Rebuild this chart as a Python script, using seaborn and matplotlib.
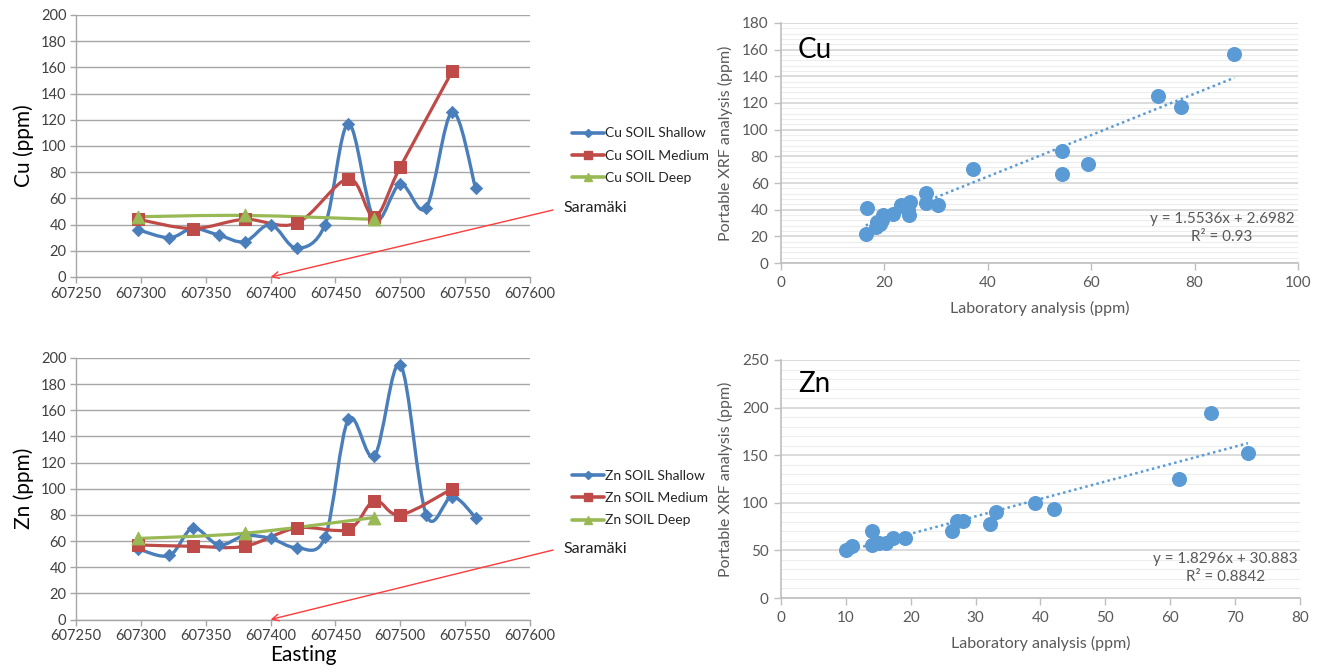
import numpy as np
import matplotlib
matplotlib.use("Agg")
import matplotlib.pyplot as plt
import seaborn as sns
from matplotlib.path import Path
from matplotlib.patches import PathPatch
from matplotlib.lines import Line2D
from matplotlib.ticker import MultipleLocator

# ---------------- data ----------------
shallow_x = [607298, 607322, 607340, 607360, 607380, 607400, 607420, 607442,
             607460, 607480, 607500, 607520, 607540, 607558]
medium_x = [607298, 607340, 607380, 607420, 607460, 607480, 607500, 607540]
deep_x = [607298, 607380, 607480]

cu_shallow = [36, 30, 37, 32, 27, 40, 22, 40, 117, 44, 71, 53, 126, 68]
cu_medium = [44, 37, 44, 41, 75, 46, 84, 157]
cu_deep = [46, 47, 44]

zn_shallow = [54, 49, 70, 57, 64, 62, 55, 63, 153, 125, 195, 80, 94, 78]
zn_medium = [57, 56, 56, 70, 69, 91, 80, 100]
zn_deep = [62, 66, 78]

cu_lab = [16.4, 16.6, 18.3, 18.5, 19.1, 19.6, 19.7, 21.6, 23.2, 24.0, 25.0, 24.6,
          24.8, 28.0, 28.0, 30.3, 37.2, 54.4, 54.4, 59.4, 72.9, 77.3, 87.7]
cu_xrf = [21.7, 41.5, 27.2, 30.7, 29.2, 32.0, 36.0, 36.8, 43.5, 42.0, 46.0, 40.0,
          36.0, 52.8, 44.8, 43.5, 70.5, 83.9, 66.8, 74.3, 125.5, 116.7, 156.4]
cu_fit = (1.5536, 2.6982)
cu_eq = "y = 1.5536x + 2.6982\nR² = 0.93"

zn_lab = [10.1, 11.0, 14.1, 14.1, 15.1, 16.2, 17.3, 19.2, 26.3, 27.2, 28.1, 32.3,
          33.1, 39.2, 42.1, 61.3, 66.3, 72.0]
zn_xrf = [50, 54.5, 70, 56, 58, 57.5, 63.5, 63.5, 70, 80.5, 80.5, 78, 90.5, 99.5,
          94, 125, 194.5, 152.5]
zn_fit = (1.8296, 30.883)
zn_eq = "y = 1.8296x + 30.883\nR² = 0.8842"

easting_ticks = [607250, 607300, 607350, 607400, 607450, 607500, 607550, 607600]

BLUE = "#4A7EBB"
RED = "#BE4B48"
GREEN = "#98B954"
SC_BLUE = "#5B9BD5"

sns.set_theme(style="white")
plt.rcParams['font.family'] = ['Lato', 'DejaVu Sans']

fig = plt.figure(figsize=(13.25, 6.72), dpi=100)


def smooth_line(ax, xs, ys, color, lw):
    pts = np.column_stack([np.asarray(xs, float), np.asarray(ys, float)])
    n = len(pts)
    verts = [pts[0]]
    codes = [Path.MOVETO]
    for i in range(n - 1):
        p0 = pts[i - 1] if i > 0 else pts[i]
        p1 = pts[i]
        p2 = pts[i + 1]
        p3 = pts[i + 2] if i + 2 < n else pts[i + 1]
        verts += [p1 + (p2 - p0) / 6.0, p2 - (p3 - p1) / 6.0, p2]
        codes += [Path.CURVE4] * 3
    ax.add_patch(PathPatch(Path(verts, codes), fill=False, edgecolor=color,
                           lw=lw, capstyle='round', joinstyle='round', zorder=2))


def profile(rect, el, sh, md, dp, legend_y, sara_y, arrow_y, xlabel):
    ax = fig.add_axes(rect)
    smooth_line(ax, shallow_x, sh, BLUE, 2.4)
    smooth_line(ax, medium_x, md, RED, 2.3)
    smooth_line(ax, deep_x, dp, GREEN, 2.3)
    sns.scatterplot(x=shallow_x, y=sh, marker='D', s=40, color=BLUE,
                    edgecolor=BLUE, ax=ax, zorder=3, legend=False)
    sns.scatterplot(x=medium_x, y=md, marker='s', s=85, color=RED,
                    edgecolor=RED, ax=ax, zorder=4, legend=False)
    sns.scatterplot(x=deep_x, y=dp, marker='^', s=85, color=GREEN,
                    edgecolor=GREEN, ax=ax, zorder=5, legend=False)
    ax.set_xlim(607250, 607600)
    ax.set_ylim(0, 200)
    ax.set_xticks(easting_ticks)
    ax.set_xticklabels([str(t) for t in easting_ticks])
    ax.set_yticks(range(0, 201, 20))
    ax.grid(axis='y', color='#A6A6A6', lw=1.0)
    ax.set_axisbelow(True)
    for s in ['top', 'right']:
        ax.spines[s].set_visible(False)
    for s in ['left', 'bottom']:
        ax.spines[s].set_color('#A6A6A6')
        ax.spines[s].set_linewidth(1.0)
    ax.tick_params(axis='both', colors='#A6A6A6', length=4, width=1.0,
                   labelcolor='#404040', labelsize=10.5, pad=3)
    ax.tick_params(axis='x', direction='out', bottom=True)
    ax.tick_params(axis='y', direction='out', left=True)
    ax.set_ylabel(f"{el} (ppm)", fontsize=15, color='black', labelpad=5)
    if xlabel:
        ax.set_xlabel(xlabel, fontsize=15, color='black', labelpad=1)
    handles = [
        Line2D([], [], color=BLUE, lw=2.6, marker='D', markersize=4),
        Line2D([], [], color=RED, lw=2.6, marker='s', markersize=6),
        Line2D([], [], color=GREEN, lw=2.6, marker='^', markersize=6),
    ]
    labels = [f"{el} SOIL Shallow", f"{el} SOIL Medium", f"{el} SOIL Deep"]
    fig.legend(handles, labels, loc='center left',
               bbox_to_anchor=(0.432, legend_y), frameon=False, fontsize=10,
               handlelength=2.3, handletextpad=0.05, labelspacing=0.75,
               borderpad=0, borderaxespad=0)
    fig.text(0.425, sara_y, "Saramäki", fontsize=11.5, va='center', color='#202020')
    ax.annotate('', xy=(607400, 0), xycoords='data',
                xytext=(0.4174, arrow_y), textcoords='figure fraction',
                arrowprops=dict(arrowstyle='->', color='#FF3B3B', lw=1.0,
                                shrinkA=0, shrinkB=0, mutation_scale=12),
                annotation_clip=False, zorder=6)
    return ax


def comparison(rect, el, lab, xrf, fit, eq, xmax, ymax, ymaj, ymin, xmaj,
               eq_pos, label_y):
    ax = fig.add_axes(rect)
    sns.scatterplot(x=lab, y=xrf, s=100, color=SC_BLUE, edgecolor=SC_BLUE,
                    ax=ax, zorder=3, legend=False)
    xl = np.array([min(lab), max(lab)])
    ax.plot(xl, fit[0] * xl + fit[1], linestyle=(0, (1, 1.3)), color=SC_BLUE,
            lw=1.8, zorder=2)
    ax.set_xlim(0, xmax)
    ax.set_ylim(0, ymax)
    ax.xaxis.set_major_locator(MultipleLocator(xmaj))
    ax.yaxis.set_major_locator(MultipleLocator(ymaj))
    ax.yaxis.set_minor_locator(MultipleLocator(ymin))
    ax.grid(axis='y', which='major', color='#D9D9D9', lw=1.3)
    ax.grid(axis='y', which='minor', color='#EDEDED', lw=0.8)
    ax.set_axisbelow(True)
    for s in ['top', 'right']:
        ax.spines[s].set_visible(False)
    for s in ['left', 'bottom']:
        ax.spines[s].set_color('#BFBFBF')
        ax.spines[s].set_linewidth(1.2)
    ax.tick_params(axis='both', which='major', colors='#BFBFBF', length=5,
                   width=1.0, labelcolor='#595959', labelsize=11, pad=4,
                   direction='out', bottom=True, left=True)
    ax.tick_params(axis='y', which='minor', left=False)
    ax.set_xlabel("Laboratory analysis (ppm)", fontsize=11.5, color='#595959',
                  labelpad=8)
    ax.set_ylabel("Portable XRF analysis (ppm)", fontsize=11.5, color='#595959',
                  labelpad=6)
    ax.text(0.033, label_y, el, transform=ax.transAxes, fontsize=20,
            va='center', ha='left', color='black')
    ax.text(eq_pos[0], eq_pos[1], eq, transform=ax.transAxes, fontsize=11,
            ha='center', va='center', color='#595959', multialignment='center',
            linespacing=1.35)
    return ax


profile([0.0574, 0.5878, 0.3426, 0.3899], "Cu", cu_shallow, cu_medium, cu_deep,
        0.768, 0.690, 0.6875, None)
profile([0.0574, 0.0781, 0.3426, 0.3892], "Zn", zn_shallow, zn_medium, zn_deep,
        0.259, 0.183, 0.1815, "Easting")

comparison([0.5894, 0.6086, 0.3902, 0.3572], "Cu", cu_lab, cu_xrf, cu_fit, cu_eq,
           100, 180, 20, 4, 20, (0.853, 0.145), 0.887)
comparison([0.5894, 0.1101, 0.3916, 0.3542], "Zn", zn_lab, zn_xrf, zn_fit, zn_eq,
           80, 250, 50, 10, 10, (0.857, 0.126), 0.90)

fig.savefig("out.png", dpi=100)
